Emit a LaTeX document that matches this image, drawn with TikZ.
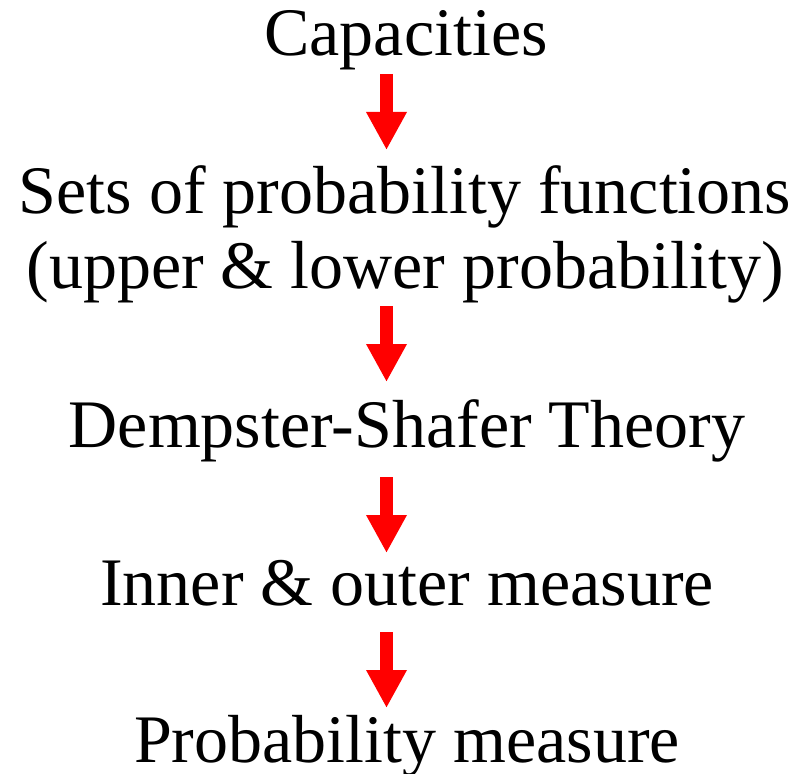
\documentclass[tikz,border=0pt]{standalone}
\usepackage{fontspec}
\setmainfont{Liberation Serif}
\usetikzlibrary{arrows.meta}
\tikzset{
  lbl/.style={anchor=base, inner sep=0pt, font=\fontsize{68}{78}\selectfont},
  bigarrow/.style={draw=red, line width=13pt, line cap=butt, -{Triangle[width=38pt,length=38pt,fill=red,color=red]}}
}
\begin{document}
\begin{tikzpicture}[x=1pt,y=1pt]
\useasboundingbox (0,0) rectangle (802,-773);
\node[lbl] (cap) at (406,-56) {Capacities};
\node[lbl] (sets) at (405,-213) {Sets of probability functions};
\node[lbl] (upper) at (405,-288) {(upper \& lower probability)};
\node[lbl] (ds) at (407,-447) {Dempster-Shafer Theory};
\node[lbl] (inner) at (407,-605) {Inner \& outer measure};
\node[lbl] (prob) at (407,-762) {Probability measure};
\coordinate (a1s) at (386.5,-74);
\coordinate (a1e) at (386.5,-150);
\coordinate (a2s) at (386.5,-306);
\coordinate (a2e) at (386.5,-382);
\coordinate (a3s) at (386.5,-477);
\coordinate (a3e) at (386.5,-553);
\coordinate (a4s) at (386.5,-632);
\coordinate (a4e) at (386.5,-708);
\draw[bigarrow] (a1s) -- (a1e);
\draw[bigarrow] (a2s) -- (a2e);
\draw[bigarrow] (a3s) -- (a3e);
\draw[bigarrow] (a4s) -- (a4e);
\end{tikzpicture}
\end{document}
